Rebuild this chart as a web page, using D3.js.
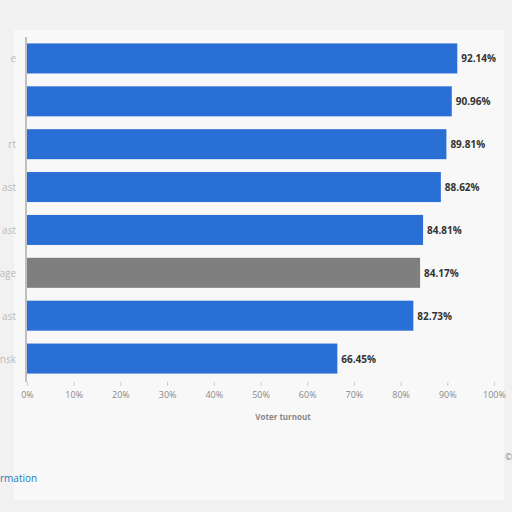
<!DOCTYPE html>
<html><head><meta charset="utf-8">
<script src="https://cdn.jsdelivr.net/npm/d3@7"></script>
<style>body{margin:0;background:#efefef;}svg{display:block;}</style>
</head><body>
<svg id="chart" width="512" height="512"></svg>
<script>
// visible (cropped) category labels and values
var categories = ["e", "", "rt", "ast", "ast", "age", "ast", "nsk"];
var values = [92.14, 90.96, 89.81, 88.62, 84.81, 84.17, 82.73, 66.45];
var highlight = [false, false, false, false, false, true, false, false];
var ticks = [0, 10, 20, 30, 40, 50, 60, 70, 80, 90, 100];

var svg = d3.select("#chart");
svg.append("rect").attr("width", 512).attr("height", 512).attr("fill", "#f1f1f1");
svg.append("rect").attr("x", 14).attr("y", 30).attr("width", 490).attr("height", 470).attr("fill", "#f8f8f8");

var x = d3.scaleLinear().domain([0, 100]).range([27, 494]);
var y = d3.scaleBand().domain(d3.range(values.length)).range([37, 380]).paddingInner(0.3).paddingOuter(0.15);

svg.selectAll(".bar").data(values).enter().append("rect")
  .attr("x", x(0)).attr("y", (d, i) => y(i))
  .attr("width", d => x(d) - x(0)).attr("height", y.bandwidth())
  .attr("fill", (d, i) => highlight[i] ? "#7f7f7f" : "#2a6fd6");

svg.selectAll(".val").data(values).enter().append("text")
  .attr("x", d => x(d) + 4).attr("y", (d, i) => y(i) + y.bandwidth() / 2 + 4)
  .attr("font-family", "Open Sans, sans-serif").attr("font-size", 10).attr("font-weight", "bold")
  .attr("fill", "#333").text(d => d.toFixed(2) + "%");

svg.selectAll(".cat").data(categories).enter().append("text")
  .attr("x", 16).attr("y", (d, i) => y(i) + y.bandwidth() / 2 + 4)
  .attr("text-anchor", "end").attr("font-family", "Open Sans, sans-serif").attr("font-size", 10)
  .attr("fill", "#bbb").text(d => d);

svg.append("line").attr("x1", 26).attr("x2", 26).attr("y1", 37).attr("y2", 382).attr("stroke", "#888");

var ax = svg.append("g").attr("transform", "translate(0,382)")
  .call(d3.axisBottom(x).tickValues(ticks).tickFormat(d => d + "%").tickSize(4).tickSizeOuter(0));
ax.select(".domain").remove();
ax.selectAll("line").attr("stroke", "#ccc");
ax.selectAll("text").attr("font-family", "Open Sans, sans-serif").attr("font-size", 9).attr("fill", "#888").attr("dy", "1em");

svg.append("text").attr("x", 283).attr("y", 420).attr("text-anchor", "middle")
  .attr("font-family", "Open Sans, sans-serif").attr("font-size", 8).attr("font-weight", "bold")
  .attr("fill", "#888").text("Voter turnout");
svg.append("text").attr("x", 0).attr("y", 482)
  .attr("font-family", "Open Sans, sans-serif").attr("font-size", 10)
  .attr("fill", "#2a7ab8").text("rmation");
svg.append("text").attr("x", 505).attr("y", 460)
  .attr("font-family", "Open Sans, sans-serif").attr("font-size", 9)
  .attr("fill", "#888").text("©");
</script>
</body></html>
